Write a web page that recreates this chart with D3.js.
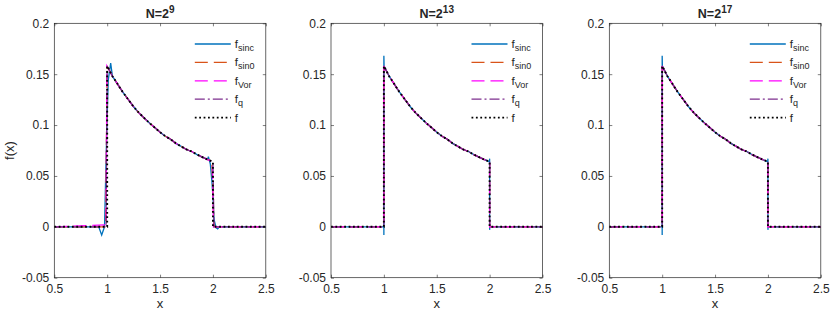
<!DOCTYPE html>
<html>
<head>
<meta charset="utf-8">
<script src="https://cdn.jsdelivr.net/npm/d3@7"></script>
<style>
  body { margin: 0; background: #fff; }
  text { font-family: "Liberation Sans", Arial, Helvetica, sans-serif; fill: #262626; }
</style>
</head>
<body>
<svg id="chart" width="831" height="314"></svg>
<script>
// ---- data ----
const exponents = [9, 13, 17];
const xTicks = [0.5, 1, 1.5, 2, 2.5];
const yTicks = [-0.05, 0, 0.05, 0.1, 0.15, 0.2];

// smooth part of f between the two jumps
const curveX = [1.05, 1.1, 1.15, 1.2, 1.25, 1.3, 1.35, 1.4, 1.45, 1.5, 1.55, 1.6, 1.65, 1.7, 1.75, 1.8, 1.85, 1.9, 1.95];
const curveY = [0.148, 0.140, 0.132, 0.125, 0.118, 0.112, 0.107, 0.102, 0.0975, 0.093, 0.089, 0.086, 0.082, 0.079, 0.076, 0.074, 0.071, 0.0685, 0.066];

// edges around x=1 and x=2, N=2^9
const sincLeft9 = [[0.5, 0], [0.92, 0], [0.948, -0.008], [0.975, 0], [0.995, 0.09], [1.01, 0.144], [1.033, 0.161]];
const sincRight9 = [[1.957, 0.069], [1.975, 0.062], [1.99, 0.045], [2.0, 0.03], [2.011, 0.007], [2.03, -0.001], [2.045, -0.002], [2.06, 0], [2.5, 0]];
const sin0Left9 = [[0.5, 0], [0.985, 0], [0.995, 0.1], [1.0, 0.158]];
const sin0Right9 = [[1.99, 0.065], [2.01, 0.002], [2.02, 0], [2.5, 0]];
const vorLeft9 = [[0.5, 0], [0.99, 0.002], [0.997, 0.158]];
const vorRight9 = [[1.995, 0.064], [2.005, 0], [2.5, 0]];
const qLeft9 = [[0.5, 0], [0.99, 0], [1.0, 0.158]];
const qRight9 = [[2.0, 0.064], [2.01, 0], [2.5, 0]];

// finer N: sinc keeps a small spike at each jump
const sincLeftFine = [[0.5, 0], [1, 0], [1, -0.008], [1, 0.168], [1.002, 0.158]];
const sincRightFine = [[1.998, 0.064], [2, 0.067], [2, -0.003], [2.002, 0], [2.5, 0]];

// exact f
const exactLeft = [[0.5, 0], [1, 0], [1, 0.158]];
const exactRight = [[2, 0.064], [2, 0], [2.5, 0]];

const seriesSubs = ["sinc", "sin0", "Vor", "q", ""];
const seriesColors = ["#0072BD", "#D95319", "#FF00FF", "#7E2F8E", "#000000"];
const seriesDash = [null, "13,6", "13,6", "10,3,2,3", "1.8,2.6"];
const seriesWidth = [1.3, 1.3, 1.3, 1.3, 1.9];

// ---- layout ----
const svg = d3.select("#chart");
const panelLeft = [54.3, 331, 609.3];
const panelW = 211.5;
const plotTop = 23.3, plotBottom = 277.7;

const curvePts = curveX.map((x, i) => [x, curveY[i]]);

function panelSeries(p) {
  if (p === 0) {
    return [
      sincLeft9.concat(curvePts, sincRight9),
      sin0Left9.concat(curvePts, sin0Right9),
      vorLeft9.concat(curvePts, vorRight9),
      qLeft9.concat(curvePts, qRight9),
      exactLeft.concat(curvePts, exactRight)
    ];
  }
  return [
    sincLeftFine.concat(curvePts, sincRightFine),
    exactLeft.concat(curvePts, exactRight),
    exactLeft.concat(curvePts, exactRight),
    exactLeft.concat(curvePts, exactRight),
    exactLeft.concat(curvePts, exactRight)
  ];
}

exponents.forEach((ex, p) => {
  let left = panelLeft[p], right = left + panelW;
  let x = d3.scaleLinear().domain([0.5, 2.5]).range([left, right]);
  let y = d3.scaleLinear().domain([-0.05, 0.2]).range([plotBottom, plotTop]);
  let g = svg.append("g");

  // curves
  let line = d3.line().x(d => x(d[0])).y(d => y(d[1]));
  panelSeries(p).forEach((pts, i) => {
    g.append("path")
      .attr("d", line(pts))
      .attr("fill", "none")
      .attr("stroke", seriesColors[i])
      .attr("stroke-width", seriesWidth[i])
      .attr("stroke-dasharray", seriesDash[i]);
  });

  // axes, ticks pointing inwards
  let fmt = d => String(d);
  g.append("g").attr("transform", `translate(0,${plotBottom})`)
    .call(d3.axisBottom(x).tickValues(xTicks).tickSize(-3).tickPadding(7).tickFormat(fmt));
  g.append("g").attr("transform", `translate(0,${plotTop})`)
    .call(d3.axisTop(x).tickValues(xTicks).tickSize(-3).tickFormat(""));
  g.append("g").attr("transform", `translate(${left},0)`)
    .call(d3.axisLeft(y).tickValues(yTicks).tickSize(-3).tickPadding(5).tickFormat(fmt));
  g.append("g").attr("transform", `translate(${right},0)`)
    .call(d3.axisRight(y).tickValues(yTicks).tickSize(-3).tickFormat(""));
  g.selectAll(".domain").remove();
  g.selectAll(".tick line").attr("stroke", "#262626").attr("stroke-width", 0.6);
  g.selectAll(".tick text").style("font-size", "12px").attr("fill", "#262626");

  g.append("rect")
    .attr("x", left).attr("y", plotTop)
    .attr("width", panelW).attr("height", plotBottom - plotTop)
    .attr("fill", "none").attr("stroke", "#262626").attr("stroke-width", 0.7);

  // title
  let t = g.append("text")
    .attr("x", (left + right) / 2).attr("y", 18)
    .attr("text-anchor", "middle")
    .style("font-size", "12.5px").style("font-weight", "bold");
  t.append("tspan").text("N=2");
  t.append("tspan").attr("dy", -5).style("font-size", "10px").text(ex);

  // x label
  g.append("text")
    .attr("x", (left + right) / 2).attr("y", 308)
    .attr("text-anchor", "middle")
    .style("font-size", "13px").text("x");

  // legend
  seriesSubs.forEach((s, i) => {
    let ly = 44 + i * 18.4;
    g.append("line")
      .attr("x1", right - 71).attr("x2", right - 35)
      .attr("y1", ly).attr("y2", ly)
      .attr("stroke", seriesColors[i])
      .attr("stroke-width", seriesWidth[i])
      .attr("stroke-dasharray", seriesDash[i]);
    let lt = g.append("text")
      .attr("x", right - 31).attr("y", ly + 4)
      .style("font-size", "11.5px");
    lt.append("tspan").text("f");
    if (s) lt.append("tspan").attr("dy", 3).style("font-size", "9px").text(s);
  });
});

// y label
svg.append("text")
  .attr("transform", `translate(14,${(plotTop + plotBottom) / 2}) rotate(-90)`)
  .attr("text-anchor", "middle")
  .style("font-size", "13px").text("f(x)");
</script>
</body>
</html>
